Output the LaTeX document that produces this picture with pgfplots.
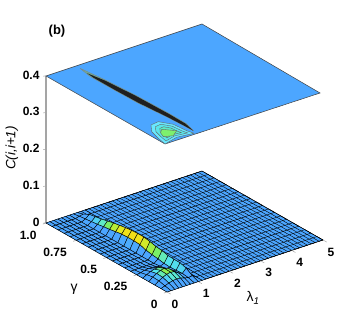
\documentclass[border=0pt]{standalone}
\usepackage{fontspec}
\setmainfont{Liberation Sans}
\usepackage{pgfplots}
\pgfplotsset{compat=1.18}

\definecolor{planeblue}{RGB}{76,166,255}
\definecolor{cyanA}{RGB}{105,232,255}
\definecolor{cyanB}{RGB}{90,230,235}
\definecolor{cyanC}{RGB}{90,235,200}
\definecolor{greenA}{RGB}{125,240,110}
\definecolor{tipcol}{RGB}{110,170,150}
\definecolor{axgray}{RGB}{165,165,165}

\begin{document}
\begin{tikzpicture}[x=1pt,y=1pt]
\useasboundingbox (0,0) rectangle (354,328);
\begin{axis}[
  at={(167pt,36pt)}, anchor=origin,
  x={(31.2pt,10.4pt)}, y={(-121pt,69pt)}, z={(0pt,367.5pt)},
  xmin=0, xmax=5, ymin=0, ymax=1, zmin=0, zmax=0.4,
  clip=false,
  axis line style={draw=none},
  tick pos=left,
  major tick length=0pt,
  tick label style={font=\fontsize{12}{12}\selectfont\bfseries},
  xtick={0,1,2,3,4,5}, xticklabels={0,1,2,3,4,5},
  ytick={0,0.25,0.5,0.75,1}, yticklabels={0,0.25,0.5,0.75,1.0},
  ztick={0,0.1,0.2,0.3,0.4}, zticklabels={0,0.1,0.2,0.3,0.4},
  xticklabel style={anchor=center, xshift=8pt, yshift=-12pt},
  yticklabel style={anchor=east, xshift=-6pt, yshift=-12pt},
  zticklabel style={anchor=east, xshift=-3pt, yshift=1pt},
  xlabel={\fontsize{14}{14}\selectfont λ\textsubscript{\itshape 1}},
  ylabel={\fontsize{14}{14}\selectfont γ},
  zlabel={\fontsize{13.5}{14}\selectfont\itshape C(i,i+1)},
  xlabel style={at={(axis cs:1.527,-0.317,0)}, anchor=center},
  ylabel style={at={(axis cs:-1.704,0.329,0)}, anchor=center, rotate=0, yshift=-2pt},
  zlabel style={at={(axis cs:0,1,0.204)}, anchor=center, yshift=34pt, rotate=0},
  colormap={cm}{rgb255=(76,166,255) rgb255=(76,166,255) rgb255=(76,166,255) rgb255=(76,166,255) rgb255=(76,166,255) rgb255=(80,200,245) rgb255=(85,232,235) rgb255=(105,236,160) rgb255=(125,240,90) rgb255=(190,235,50) rgb255=(240,230,30) rgb255=(250,185,0) rgb255=(250,165,0)},
  point meta min=0, point meta max=0.03,
]
% vertical axis and its ticks
\addplot3[axgray, line width=1.5pt, no markers] coordinates {(0,1,0)(0,1,0.4)};
\addplot3[axgray, line width=0.5pt, no markers, unbounded coords=jump] coordinates {
(0,1,0)(-0.061,1.009,0)(nan,nan,nan)(0,1,0.1)(-0.061,1.009,0.1)(nan,nan,nan)(0,1,0.2)(-0.061,1.009,0.2)(nan,nan,nan)
(0,1,0.3)(-0.061,1.009,0.3)(nan,nan,nan)(0,1,0.4)(-0.061,1.009,0.4)};
% floor
\addplot3[black, line width=0.4pt, fill=planeblue, no markers] coordinates {(0,0,0)(5,0,0)(5,1,0)(0,1,0)(0,0,0)};
\addplot3[black, line width=0.4pt, no markers] coordinates {
(1.25,0,0)(5,0,0)(5,0.05,0)(1.25,0.05,0)(1.25,0.1,0)(5,0.1,0)(5,0.15,0)(1.25,0.15,0)
(1.25,0.2,0)(5,0.2,0)(5,0.25,0)(1.25,0.25,0)(1.25,0.3,0)(5,0.3,0)(5,0.35,0)(1.25,0.35,0)
(1.25,0.4,0)(5,0.4,0)(5,0.45,0)(1.25,0.45,0)(1.25,0.5,0)(5,0.5,0)(5,0.55,0)(1.25,0.55,0)
(1.25,0.6,0)(5,0.6,0)(5,0.65,0)(1.25,0.65,0)(1.25,0.7,0)(5,0.7,0)(5,0.75,0)(1.25,0.75,0)
(1.25,0.8,0)(5,0.8,0)(5,0.85,0)(1.25,0.85,0)(1.25,0.9,0)(5,0.9,0)(5,0.95,0)(1.25,0.95,0)
(1.25,1,0)(5,1,0)};
\addplot3[black, line width=0.4pt, no markers] coordinates {
(1.25,0,0)(1.25,1,0)(1.375,1,0)(1.375,0,0)(1.5,0,0)(1.5,1,0)(1.625,1,0)(1.625,0,0)
(1.75,0,0)(1.75,1,0)(1.875,1,0)(1.875,0,0)(2,0,0)(2,1,0)(2.125,1,0)(2.125,0,0)
(2.25,0,0)(2.25,1,0)(2.375,1,0)(2.375,0,0)(2.5,0,0)(2.5,1,0)(2.625,1,0)(2.625,0,0)
(2.75,0,0)(2.75,1,0)(2.875,1,0)(2.875,0,0)(3,0,0)(3,1,0)(3.125,1,0)(3.125,0,0)
(3.25,0,0)(3.25,1,0)(3.375,1,0)(3.375,0,0)(3.5,0,0)(3.5,1,0)(3.625,1,0)(3.625,0,0)
(3.75,0,0)(3.75,1,0)(3.875,1,0)(3.875,0,0)(4,0,0)(4,1,0)(4.125,1,0)(4.125,0,0)
(4.25,0,0)(4.25,1,0)(4.375,1,0)(4.375,0,0)(4.5,0,0)(4.5,1,0)(4.625,1,0)(4.625,0,0)
(4.75,0,0)(4.75,1,0)(4.875,1,0)(4.875,0,0)(5,0,0)(5,1,0)};
% floor ticks
\addplot3[axgray, line width=0.5pt, no markers, unbounded coords=jump] coordinates {
(0,0,0)(0,-0.03,0)(nan,nan,nan)(1,0,0)(1,-0.03,0)(nan,nan,nan)(2,0,0)(2,-0.03,0)(nan,nan,nan)
(3,0,0)(3,-0.03,0)(nan,nan,nan)(4,0,0)(4,-0.03,0)(nan,nan,nan)(5,0,0)(5,-0.03,0)};
\addplot3[axgray, line width=0.5pt, no markers, unbounded coords=jump] coordinates {
(0,0,0)(-0.1,0,0)(nan,nan,nan)(0,0.25,0)(-0.1,0.25,0)(nan,nan,nan)(0,0.5,0)(-0.1,0.5,0)(nan,nan,nan)
(0,0.75,0)(-0.1,0.75,0)(nan,nan,nan)(0,1,0)(-0.1,1,0)};
% surface near lambda=1
\addplot3[surf, shader=faceted, faceted color=black, line width=0.4pt, z buffer=sort, mesh/cols=11]
table[row sep=\\]{
x y z\\
0 1 0\\ 0.125 1 0\\ 0.25 1 0\\ 0.375 1 0\\ 0.5 1 0\\ 0.625 1 0\\ 0.75 1 0\\ 0.875 1 0\\ 1 1 0\\ 1.125 1 0\\ 1.25 1 0\\
0 0.95 0\\ 0.125 0.95 0\\ 0.25 0.95 0\\ 0.375 0.95 0\\ 0.5 0.95 0\\ 0.625 0.95 0\\ 0.75 0.95 0\\ 0.875 0.95 0.003\\ 1 0.95 0.005\\ 1.125 0.95 0\\ 1.25 0.95 0\\
0 0.9 0\\ 0.125 0.9 0\\ 0.25 0.9 0\\ 0.375 0.9 0\\ 0.5 0.9 0\\ 0.625 0.9 0\\ 0.75 0.9 0\\ 0.875 0.9 0.005\\ 1 0.9 0.014\\ 1.125 0.9 0\\ 1.25 0.9 0\\
0 0.85 0\\ 0.125 0.85 0\\ 0.25 0.85 0\\ 0.375 0.85 0\\ 0.5 0.85 0\\ 0.625 0.85 0\\ 0.75 0.85 0\\ 0.875 0.85 0.007\\ 1 0.85 0.017\\ 1.125 0.85 0\\ 1.25 0.85 0\\
0 0.8 0\\ 0.125 0.8 0\\ 0.25 0.8 0\\ 0.375 0.8 0\\ 0.5 0.8 0\\ 0.625 0.8 0\\ 0.75 0.8 0\\ 0.875 0.8 0.009\\ 1 0.8 0.02\\ 1.125 0.8 0\\ 1.25 0.8 0\\
0 0.75 0\\ 0.125 0.75 0\\ 0.25 0.75 0\\ 0.375 0.75 0\\ 0.5 0.75 0\\ 0.625 0.75 0\\ 0.75 0.75 0\\ 0.875 0.75 0.012\\ 1 0.75 0.024\\ 1.125 0.75 0\\ 1.25 0.75 0\\
0 0.7 0\\ 0.125 0.7 0\\ 0.25 0.7 0\\ 0.375 0.7 0\\ 0.5 0.7 0\\ 0.625 0.7 0\\ 0.75 0.7 0\\ 0.875 0.7 0.014\\ 1 0.7 0.028\\ 1.125 0.7 0\\ 1.25 0.7 0\\
0 0.65 0\\ 0.125 0.65 0\\ 0.25 0.65 0\\ 0.375 0.65 0\\ 0.5 0.65 0\\ 0.625 0.65 0\\ 0.75 0.65 0\\ 0.875 0.65 0.017\\ 1 0.65 0.031\\ 1.125 0.65 0\\ 1.25 0.65 0\\
0 0.6 0\\ 0.125 0.6 0\\ 0.25 0.6 0\\ 0.375 0.6 0\\ 0.5 0.6 0\\ 0.625 0.6 0\\ 0.75 0.6 0\\ 0.875 0.6 0.02\\ 1 0.6 0.034\\ 1.125 0.6 0\\ 1.25 0.6 0\\
0 0.55 0\\ 0.125 0.55 0\\ 0.25 0.55 0\\ 0.375 0.55 0\\ 0.5 0.55 0\\ 0.625 0.55 0\\ 0.75 0.55 0\\ 0.875 0.55 0.021\\ 1 0.55 0.036\\ 1.125 0.55 0\\ 1.25 0.55 0\\
0 0.5 0\\ 0.125 0.5 0\\ 0.25 0.5 0\\ 0.375 0.5 0\\ 0.5 0.5 0\\ 0.625 0.5 0\\ 0.75 0.5 0\\ 0.875 0.5 0.021\\ 1 0.5 0.037\\ 1.125 0.5 0\\ 1.25 0.5 0\\
0 0.45 0\\ 0.125 0.45 0\\ 0.25 0.45 0\\ 0.375 0.45 0\\ 0.5 0.45 0\\ 0.625 0.45 0\\ 0.75 0.45 0\\ 0.875 0.45 0.02\\ 1 0.45 0.037\\ 1.125 0.45 0\\ 1.25 0.45 0\\
0 0.4 0\\ 0.125 0.4 0\\ 0.25 0.4 0\\ 0.375 0.4 0\\ 0.5 0.4 0\\ 0.625 0.4 0\\ 0.75 0.4 0\\ 0.875 0.4 0.014\\ 1 0.4 0.034\\ 1.125 0.4 0\\ 1.25 0.4 0\\
0 0.35 0\\ 0.125 0.35 0\\ 0.25 0.35 0\\ 0.375 0.35 0\\ 0.5 0.35 0\\ 0.625 0.35 0\\ 0.75 0.35 0\\ 0.875 0.35 0.011\\ 1 0.35 0.03\\ 1.125 0.35 0\\ 1.25 0.35 0\\
0 0.3 0\\ 0.125 0.3 0\\ 0.25 0.3 0.001\\ 0.375 0.3 0.001\\ 0.5 0.3 0.001\\ 0.625 0.3 0.001\\ 0.75 0.3 0\\ 0.875 0.3 0.009\\ 1 0.3 0.028\\ 1.125 0.3 0\\ 1.25 0.3 0\\
0 0.25 0\\ 0.125 0.25 0.002\\ 0.25 0.25 0.005\\ 0.375 0.25 0.006\\ 0.5 0.25 0.006\\ 0.625 0.25 0.004\\ 0.75 0.25 0.002\\ 0.875 0.25 0.006\\ 1 0.25 0.024\\ 1.125 0.25 0\\ 1.25 0.25 0\\
0 0.2 0\\ 0.125 0.2 0.006\\ 0.25 0.2 0.011\\ 0.375 0.2 0.014\\ 0.5 0.2 0.015\\ 0.625 0.2 0.011\\ 0.75 0.2 0.005\\ 0.875 0.2 0.005\\ 1 0.2 0.023\\ 1.125 0.2 0\\ 1.25 0.2 0\\
0 0.15 0\\ 0.125 0.15 0.009\\ 0.25 0.15 0.015\\ 0.375 0.15 0.02\\ 0.5 0.15 0.022\\ 0.625 0.15 0.018\\ 0.75 0.15 0.01\\ 0.875 0.15 0.006\\ 1 0.15 0.023\\ 1.125 0.15 0\\ 1.25 0.15 0\\
0 0.1 0\\ 0.125 0.1 0.008\\ 0.25 0.1 0.014\\ 0.375 0.1 0.019\\ 0.5 0.1 0.021\\ 0.625 0.1 0.019\\ 0.75 0.1 0.012\\ 0.875 0.1 0.007\\ 1 0.1 0.018\\ 1.125 0.1 0\\ 1.25 0.1 0\\
0 0.05 0\\ 0.125 0.05 0.004\\ 0.25 0.05 0.008\\ 0.375 0.05 0.011\\ 0.5 0.05 0.012\\ 0.625 0.05 0.011\\ 0.75 0.05 0.008\\ 0.875 0.05 0.005\\ 1 0.05 0.007\\ 1.125 0.05 0\\ 1.25 0.05 0\\
0 0 0\\ 0.125 0 0\\ 0.25 0 0\\ 0.375 0 0\\ 0.5 0 0\\ 0.625 0 0\\ 0.75 0 0\\ 0.875 0 0\\ 1 0 0\\ 1.125 0 0\\ 1.25 0 0\\
};
% contour plane on top
\addplot3[black!75, line width=0.5pt, fill=planeblue, no markers] coordinates {(-0.005,0.015,0.4)(4.94,0.009,0.4)(5,1,0.4)(0,1,0.4)(-0.005,0.015,0.4)};
\addplot3[black!60, line width=0.4pt, fill=cyanA, no markers] coordinates {(-0.005,0.015,0.4)(0.062,0.088,0.4)(0.162,0.168,0.4)(0.386,0.232,0.4)(0.65,0.24,0.4)(0.862,0.17,0.4)(0.906,0.071,0.4)(0.961,0.025,0.4)(0.469,0.041,0.4)(-0.005,0.015,0.4)};
\addplot3[black!60, line width=0.4pt, fill=cyanB, no markers] coordinates {(0.121,0.04,0.4)(0.172,0.095,0.4)(0.247,0.155,0.4)(0.415,0.203,0.4)(0.612,0.209,0.4)(0.772,0.156,0.4)(0.805,0.082,0.4)(0.846,0.0475,0.4)(0.477,0.06,0.4)(0.121,0.04,0.4)};
\addplot3[black!60, line width=0.4pt, fill=cyanC, no markers] coordinates {(0.2475,0.065,0.4)(0.281,0.1015,0.4)(0.331,0.1415,0.4)(0.443,0.1735,0.4)(0.575,0.1775,0.4)(0.681,0.1425,0.4)(0.703,0.093,0.4)(0.73,0.07,0.4)(0.4845,0.078,0.4)(0.2475,0.065,0.4)};
\addplot3[black!60, line width=0.4pt, fill=greenA, no markers] coordinates {(0.22,0.087,0.4)(0.3,0.13,0.4)(0.45,0.16,0.4)(0.703,0.101,0.4)(0.457,0.066,0.4)(0.22,0.087,0.4)};
\addplot3[black!50, line width=0.3pt, fill=tipcol, no markers] coordinates {(0.961,0.967,0.4)(1.05,0.804,0.4)(1.13,0.55,0.4)(1.16,0.281,0.4)(1.15,0.138,0.4)(1.039,0.05,0.4)(1.025,0.133,0.4)(0.99,0.26,0.4)(0.9,0.474,0.4)(0.885,0.667,0.4)(0.875,0.86,0.4)(0.961,0.967,0.4)};
\addplot3[draw=none, fill=black!88, no markers] coordinates {(0.93,0.9,0.4)(1.03,0.78,0.4)(1.11,0.55,0.4)(1.14,0.281,0.4)(1.13,0.138,0.4)(1.039,0.05,0.4)(1.03,0.133,0.4)(1,0.26,0.4)(0.92,0.474,0.4)(0.9,0.667,0.4)(0.9,0.84,0.4)(0.93,0.9,0.4)};
\end{axis}
\node[font=\fontsize{13}{13}\selectfont\bfseries] at (57,297) {(b)};
\end{tikzpicture}
\end{document}
